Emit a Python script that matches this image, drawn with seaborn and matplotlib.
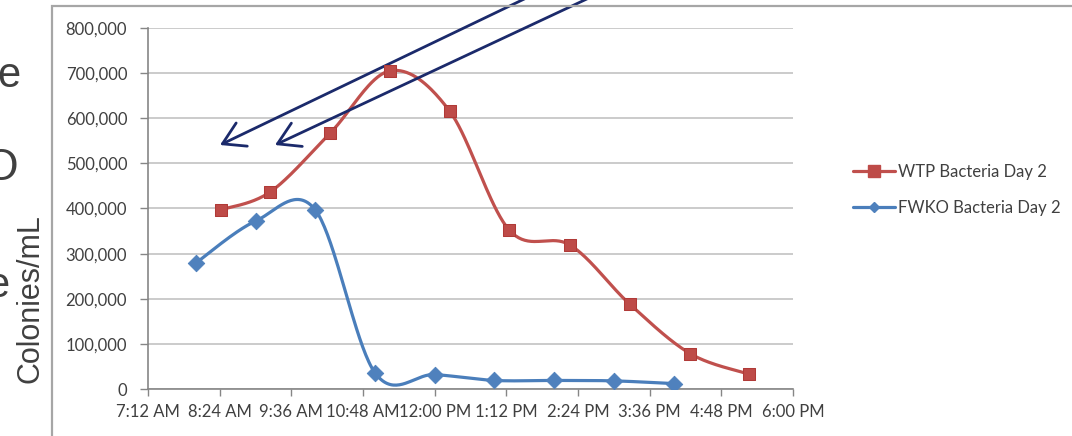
import numpy as np
import pandas as pd
import matplotlib
matplotlib.use("Agg")
import matplotlib.pyplot as plt
import seaborn as sns
from matplotlib.lines import Line2D
from matplotlib.patches import Rectangle

# ---- data ----
wtp_time = ["8:25", "9:15", "10:15", "11:15", "12:15", "13:15", "14:16", "15:16", "16:17", "17:16"]
wtp_count = [397000, 437000, 567000, 705000, 616000, 352000, 319000, 188000, 78000, 33000]

fwko_time = ["8:00", "9:00", "10:00", "11:00", "12:00", "13:00", "14:00", "15:00", "16:00"]
fwko_count = [279000, 372000, 397000, 36000, 32000, 19000, 19000, 18000, 12000]

series_names = ["WTP Bacteria Day 2", "FWKO Bacteria Day 2"]
xtick_labels = ["7:12 AM", "8:24 AM", "9:36 AM", "10:48 AM", "12:00 PM",
                "1:12 PM", "2:24 PM", "3:36 PM", "4:48 PM", "6:00 PM"]
ytick_values = [0, 100000, 200000, 300000, 400000, 500000, 600000, 700000, 800000]
y_label = "Colonies/mL"

# ---- style ----
W, H = 1072, 436
RED, RED_MK = "#C0504D", "#BE4B48"
BLUE, BLUE_MK = "#4A7EBB", "#4F81BD"
TXT = "#404040"
ARROW = "#1B2A6B"


def to_hours(t, fmt="%H:%M"):
    d = pd.to_datetime(t, format=fmt)
    return d.hour + d.minute / 60.0


def excel_smooth(x, y, n=40):
    """Bezier smoothing the way Excel draws 'smoothed line' series."""
    px = np.r_[x[0], x, x[-1]]
    py = np.r_[y[0], y, y[-1]]
    t = np.linspace(0, 1, n)[:, None]
    out = []
    for i in range(len(x) - 1):
        p0 = np.array([px[i + 1], py[i + 1]])
        p3 = np.array([px[i + 2], py[i + 2]])
        c1 = p0 + (p3 - np.array([px[i], py[i]])) / 6
        c2 = p3 - (np.array([px[i + 3], py[i + 3]]) - p0) / 6
        seg = ((1 - t) ** 3) * p0 + 3 * ((1 - t) ** 2) * t * c1 + 3 * (1 - t) * t ** 2 * c2 + t ** 3 * p3
        out.append(seg if i == 0 else seg[1:])
    pts = np.vstack(out)
    return pts[:, 0], pts[:, 1]


def main():
    sns.set_theme(style="white")
    plt.rcParams["font.family"] = ["Lato", "DejaVu Sans"]

    fig = plt.figure(figsize=(W / 100, H / 100), dpi=100)
    fig.patch.set_facecolor("white")
    ax = fig.add_axes([148 / W, 1 - 389 / H, (793 - 148) / W, (389 - 28) / H])

    wx = np.array([to_hours(t) for t in wtp_time])
    fx = np.array([to_hours(t) for t in fwko_time])
    wy = np.array(wtp_count, dtype=float)
    fy = np.array(fwko_count, dtype=float)

    sx, sy = excel_smooth(fx, fy)
    sns.lineplot(x=sx, y=sy, ax=ax, color=BLUE, lw=2.3, sort=False, estimator=None)
    sns.scatterplot(x=fx, y=fy, ax=ax, marker="D", s=70, color=BLUE_MK, edgecolor=BLUE_MK, zorder=4)

    sx, sy = excel_smooth(wx, wy)
    sns.lineplot(x=sx, y=sy, ax=ax, color=RED, lw=2.3, sort=False, estimator=None)
    sns.scatterplot(x=wx, y=wy, ax=ax, marker="s", s=85, color=RED_MK, edgecolor="#B03A37", zorder=4)

    xt = [to_hours(t, "%I:%M %p") for t in xtick_labels]
    ax.set_xlim(xt[0], xt[-1])
    ax.set_ylim(0, ytick_values[-1])
    ax.set_xticks(xt)
    ax.set_xticklabels(xtick_labels, fontsize=12, color=TXT)
    ax.set_yticks(ytick_values)
    ax.set_yticklabels([f"{v:,}" for v in ytick_values], fontsize=12, color=TXT)
    ax.tick_params(axis="x", length=5, width=1, color="#868686", pad=6, direction="out", bottom=True)
    ax.tick_params(axis="y", length=6, width=1, color="#868686", pad=9, direction="out", left=True)

    ax.grid(axis="y", color="#BDBDBD", lw=1.1)
    ax.grid(axis="x", visible=False)
    ax.set_axisbelow(True)
    for s in ["top", "right"]:
        ax.spines[s].set_visible(False)
    for s in ["left", "bottom"]:
        ax.spines[s].set_color("#868686")
        ax.spines[s].set_linewidth(1.2)
    ax.set_xlabel("")
    ax.set_ylabel("")

    handles = [
        Line2D([], [], color=RED, lw=2.3, marker="s", markersize=8, markerfacecolor=RED_MK, markeredgecolor=RED_MK),
        Line2D([], [], color=BLUE, lw=2.3, marker="D", markersize=5, markerfacecolor=BLUE_MK, markeredgecolor=BLUE_MK),
    ]
    fig.legend(handles, series_names, loc="center left", bbox_to_anchor=(838 / W, 1 - 190 / H),
               frameon=False, fontsize=12, handlelength=2.5, handletextpad=0.2, labelspacing=1.2,
               labelcolor=TXT)

    # chart frame of the pasted Excel chart
    fig.add_artist(Rectangle((52 / W, -0.2), 1.2, 1.2 - 6 / H, transform=fig.transFigure,
                             fill=False, edgecolor="#A6A6A6", lw=1.6))

    # slide text cut off on the left
    for txt, xr, yb, fs in [("e", 20, 87, 30), ("O", 18, 180, 32), ("e", 9, 297, 30)]:
        fig.text(xr / W, 1 - yb / H, txt, ha="right", va="baseline", fontsize=fs, color=TXT,
                 family="Liberation Sans")
    fig.text(31 / W, 1 - 299 / H, y_label, rotation=90, ha="center", va="center", fontsize=22,
             color=TXT, family="Liberation Sans")

    # the two callout arrows
    for tail, tip in [((543, -10), (220, 145)), ((606, -10), (275, 145))]:
        ax.annotate("", xy=(tip[0] / W, 1 - tip[1] / H), xytext=(tail[0] / W, 1 - tail[1] / H),
                    xycoords="figure fraction", textcoords="figure fraction", annotation_clip=False,
                    arrowprops=dict(arrowstyle="->,head_length=0.7,head_width=0.42", color=ARROW,
                                    lw=2, mutation_scale=22, shrinkA=0, shrinkB=0))

    fig.savefig("out.png", dpi=100, facecolor="white")


if __name__ == "__main__":
    main()
